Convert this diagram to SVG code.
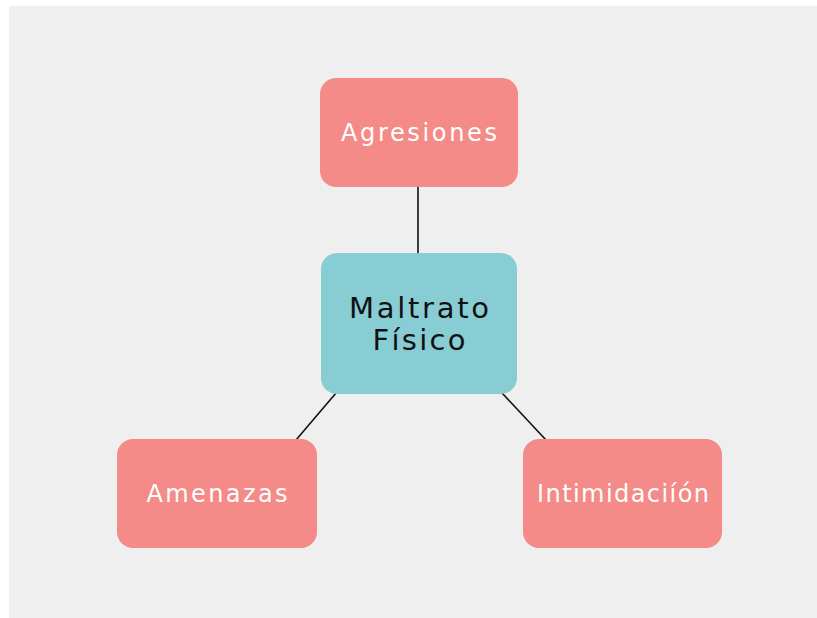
<svg xmlns="http://www.w3.org/2000/svg" width="817" height="618" viewBox="0 0 817 618">
<style>
.leaf{fill:#F48B88}
.core{fill:#88CDD4}
.lt{font-family:"DejaVu Sans","Liberation Sans",sans-serif;font-size:24px;fill:#FFFFFF;text-anchor:middle}
.ct{font-family:"DejaVu Sans","Liberation Sans",sans-serif;font-size:29px;fill:#111111;text-anchor:middle}
.edge{stroke:#111111;stroke-width:1.6;fill:none}
</style>
<rect x="0" y="0" width="817" height="618" fill="#FFFFFF"/>
<rect x="9" y="6" width="808" height="612" fill="#EFEFEF"/>
<g id="connectors">
<line class="edge" x1="418" y1="187" x2="418" y2="254"/>
<line class="edge" x1="336" y1="393" x2="296" y2="440"/>
<line class="edge" x1="502" y1="393" x2="546" y2="440"/>
</g>
<g id="agresiones">
<rect class="leaf" x="320" y="78" width="198" height="109" rx="16"/>
<text class="lt" x="419" y="141" textLength="156" lengthAdjust="spacing">Agresiones</text>
</g>
<g id="maltrato">
<rect class="core" x="321" y="253" width="196" height="141" rx="16"/>
<text class="ct" x="419" y="318" textLength="140" lengthAdjust="spacing">Maltrato</text>
<text class="ct" x="419" y="350" textLength="93" lengthAdjust="spacing">Físico</text>
</g>
<g id="amenazas">
<rect class="leaf" x="117" y="439" width="200" height="109" rx="16"/>
<text class="lt" x="217" y="502" textLength="141" lengthAdjust="spacing">Amenazas</text>
</g>
<g id="intimidacion">
<rect class="leaf" x="523" y="439" width="199" height="109" rx="16"/>
<text class="lt" x="623" y="502" textLength="172" lengthAdjust="spacing">Intimidaciíón</text>
</g>
</svg>
